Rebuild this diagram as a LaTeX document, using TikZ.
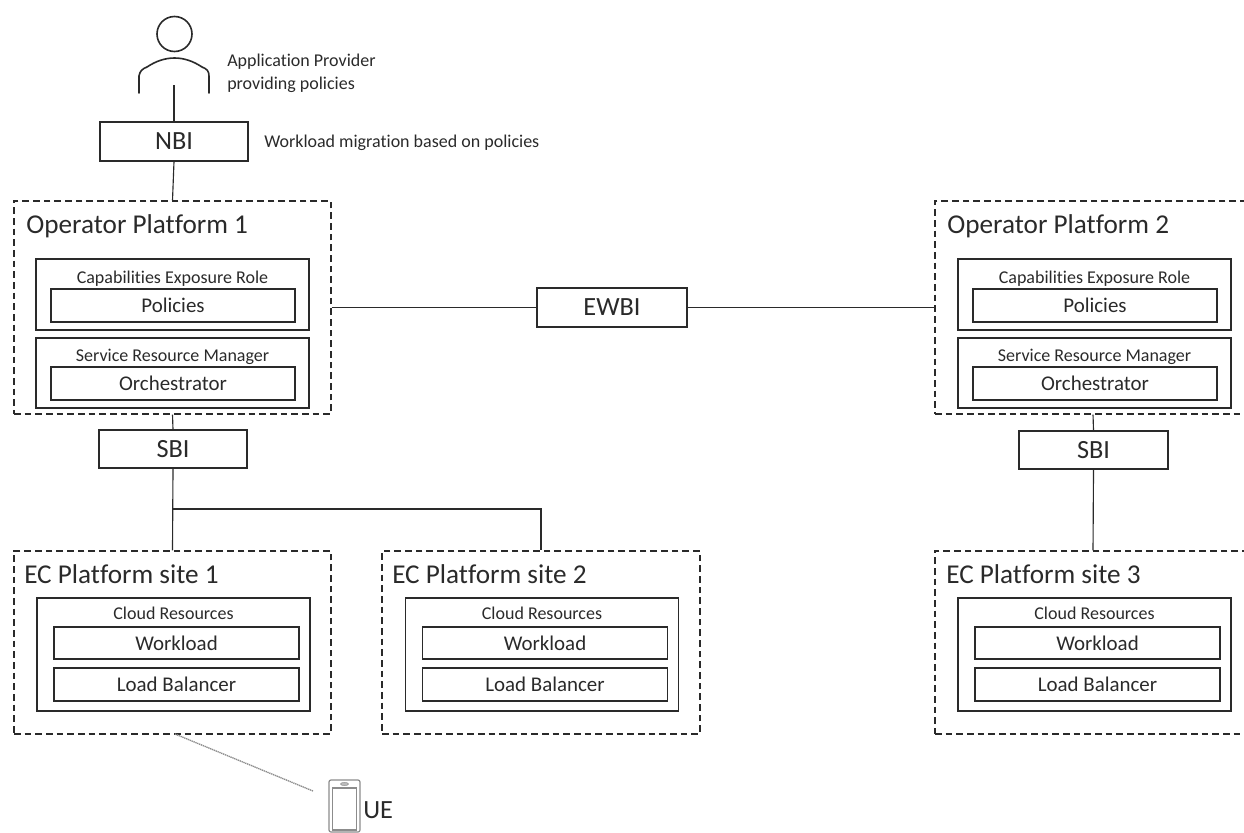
\documentclass[tikz,border=0pt]{standalone}
\usepackage{fontspec}
\usetikzlibrary{shapes.geometric}
\setmainfont[Ligatures=NoCommon]{Carlito}
\definecolor{ink}{HTML}{2A2A2A}
\definecolor{soft}{HTML}{8C8C8C}
\tikzset{
  x=0.75pt,y=-0.75pt,
  basebox/.style={draw=ink,line width=1pt,inner sep=0pt,text=ink,align=center},
  solidbox/.style={basebox,fill=white},
  dashbox/.style={draw=ink,line width=0.85pt,dash pattern=on 5pt off 3pt,inner sep=0pt},
  conn/.style={draw=ink,line width=0.85pt},
  big/.style={font=\fontsize{19.7}{23}\selectfont},
  head/.style={font=\fontsize{20.4}{24}\selectfont},
  mid/.style={font=\fontsize{15.7}{18}\selectfont},
  small/.style={font=\fontsize{13.5}{16}\selectfont},
  lbl/.style={text=ink,inner sep=0pt,anchor=base west},
  toplabel/.style={text=ink,inner sep=0pt,anchor=base},
  icon/.style={draw=ink,line width=1.2pt,line cap=round},
}
\newcommand{\bx}[7]{%
  \pgfmathsetmacro{\cxx}{((#3)+(#5))/2}\pgfmathsetmacro{\cyy}{((#4)+(#6))/2}%
  \pgfmathsetmacro{\wxx}{((#5)-(#3))*0.75}\pgfmathsetmacro{\hyy}{((#6)-(#4))*0.75}%
  \node[#2,minimum width=\wxx pt,minimum height=\hyy pt] (#1) at (\cxx,\cyy) {#7};}
\begin{document}
\begin{tikzpicture}
\useasboundingbox (0,0) rectangle (1244,832);
\clip (0,0) rectangle (1244,832);
% person
\draw[icon] (174.5,34) circle (17.5);
\draw[icon] (139,93) -- (139,76) .. controls (140,71) and (142,69) .. (147,67) .. controls (165,55) and (184,55) .. (202,67) .. controls (207,69) and (209,71) .. (209,76) -- (209,93);
\coordinate (personfoot) at (174,85);
\node[lbl,small] (appa) at (227,66.5) {Application Provider};
\node[lbl,small] (appb) at (227,89) {providing policies};
\node[lbl,small] (wm) at (264,147) {Workload migration based on policies};
% interfaces
\bx{nbi}{solidbox,big}{100}{122}{248}{161}{NBI}
\bx{sbia}{solidbox,big}{99}{430}{247}{468}{SBI}
\bx{sbib}{solidbox,big}{1019}{431}{1168}{469}{SBI}
\bx{ewbi}{solidbox,big}{537}{288}{687}{327}{EWBI}
% operator platforms
\bx{opa}{dashbox}{14}{201}{331}{414}{}
\bx{opb}{dashbox}{935}{201}{1251}{414}{}
\node[lbl,head] (opal) at (26,233) {Operator Platform 1};
\node[lbl,head] (opbl) at (947,233) {Operator Platform 2};
\foreach \n/\dx in {a/0,b/922}{
  \bx{cap\n}{basebox}{36+\dx}{259}{309+\dx}{330}{}
  \bx{pol\n}{basebox,mid}{51+\dx}{289}{295+\dx}{322}{Policies}
  \bx{srm\n}{basebox}{36+\dx}{338}{309+\dx}{408}{}
  \bx{orc\n}{basebox,mid}{51+\dx}{367}{295+\dx}{400}{Orchestrator}
  \node[toplabel,small] (capl\n) at (172.5+\dx,283) {Capabilities Exposure Role};
  \node[toplabel,small] (srml\n) at (172.5+\dx,361) {Service Resource Manager};
}
% EC sites
\bx{eca}{dashbox}{14}{551}{331}{734}{}
\bx{ecb}{dashbox}{382}{551}{700}{734}{}
\bx{ecc}{dashbox}{935}{551}{1251}{734}{}
\node[lbl,head] (ecal) at (24,583) {EC Platform site 1};
\node[lbl,head] (ecbl) at (392,583) {EC Platform site 2};
\node[lbl,head] (eccl) at (946,583) {EC Platform site 3};
\foreach \n/\dx in {a/0,b/368.5,c/921}{
  \bx{cl\n}{basebox}{37+\dx}{598}{310+\dx}{711}{}
  \bx{wl\n}{basebox,mid}{54+\dx}{627}{299+\dx}{659}{Workload}
  \bx{lb\n}{basebox,mid}{54+\dx}{668}{299+\dx}{701}{Load Balancer}
  \node[toplabel,small] (cll\n) at (173.5+\dx,619.5) {Cloud Resources};
}
% connectors
\draw[conn] (personfoot) -- (nbi.north);
\draw[conn] (nbi.south) -- (opa.north);
\draw[conn] (opa.south) -- (sbia.north);
\draw[conn] (sbia.south) -- (eca.north);
\coordinate (branch) at (173,509);
\draw[conn] (branch) -| (ecb.north);
\draw[conn] (opa.east) -- (ewbi.west);
\draw[conn] (ewbi.east) -- (opb.west);
\draw[conn] (opb.south) -- (sbib.north);
\draw[conn] (sbib.south) -- (ecc.north);
% UE
\coordinate (ueend) at (313,791);
\coordinate (ecfoot) at (175,734);
\draw[draw=soft,line width=1pt,dash pattern=on 1pt off 0.5pt] (ecfoot) -- (ueend);
\node[draw=soft,line width=0.9pt,rounded corners=1.5pt,minimum width=23.25pt,minimum height=39pt,inner sep=0pt] (phone) at (344.5,806) {};
\node[draw=soft,line width=0.8pt,minimum width=18.4pt,minimum height=31.5pt,inner sep=0pt] (screen) at (344.5,809) {};
\node[draw=soft,fill=soft!60,line width=0.3pt,ellipse,minimum width=6pt,minimum height=2.5pt,inner sep=0pt] (cam) at (344.5,784) {};
\node[lbl,big] (uel) at (363,818.5) {UE};
\end{tikzpicture}
\end{document}
